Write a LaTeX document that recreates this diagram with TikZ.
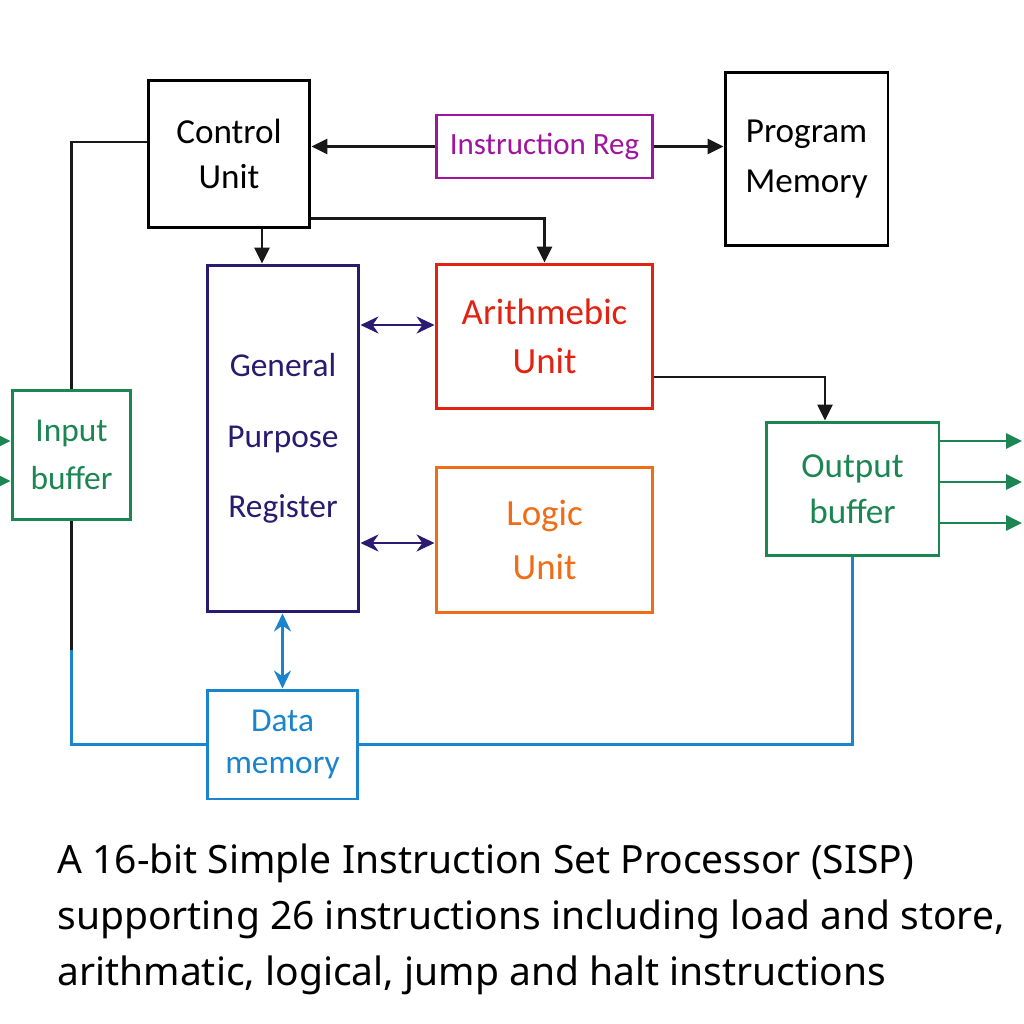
\documentclass[tikz,border=0pt]{standalone}
\usepackage{fontspec}
\setmainfont{Carlito}
\newfontfamily\capfont{Noto Sans}
\usetikzlibrary{arrows.meta, positioning, calc}
\definecolor{irpurple}{RGB}{160,20,160}
\definecolor{gprindigo}{RGB}{42,26,112}
\definecolor{aured}{RGB}{226,34,18}
\definecolor{luorange}{RGB}{240,108,22}
\definecolor{bufgreen}{RGB}{28,134,82}
\definecolor{memblue}{RGB}{26,132,204}
\definecolor{linedark}{RGB}{25,25,25}

\tikzset{
  block/.style={draw, line width=1.7pt, inner sep=0pt, align=center, font=\fontsize{20}{26}\selectfont},
  arr/.style={line width=1.5pt, linedark, -{Triangle[length=0.32cm, width=0.3cm]}},
  dbl/.style={line width=1.6pt, {Stealth[length=0.36cm, width=0.34cm]}-{Stealth[length=0.36cm, width=0.34cm]}},
  wire/.style={line width=1.5pt}
}

\begin{document}
\begin{tikzpicture}[x=0.02cm, y=-0.02cm]

\fill[white] (0,0) rectangle (1024,1024);
\clip (0,0) rectangle (1024,1024);

% === blocks ===
\node[block, minimum width=3.24cm, minimum height=2.96cm] (cu) at (229,154) {Control\\Unit};
\node[block, draw=irpurple, text=irpurple, minimum width=4.34cm, minimum height=1.26cm, font=\fontsize{17.6}{20}\selectfont] (ir) at (544.5,146.5) {Instruction Reg};
\node[block, minimum width=3.26cm, minimum height=3.48cm, font=\fontsize{20}{28}\selectfont] (pm) at (806.5,159) {Program\\Memory};
\node[block, draw=gprindigo, text=gprindigo, minimum width=3.04cm, minimum height=6.94cm, font=\fontsize{19}{40}\selectfont] (gpr) at (283,438.5) {General\\Purpose\\Register};
\node[block, draw=aured, text=aured, minimum width=4.34cm, minimum height=2.9cm, font=\fontsize{21}{28}\selectfont] (au) at (544.5,336.5) {Arithmebic\\Unit};
\node[block, draw=luorange, text=luorange, minimum width=4.34cm, minimum height=2.92cm, font=\fontsize{21}{31}\selectfont] (lu) at (544.5,540) {Logic\\Unit};
\node[block, draw=bufgreen, text=bufgreen, minimum width=3.46cm, minimum height=2.68cm] (ob) at (852.5,489) {Output\\buffer};
\node[block, draw=bufgreen, text=bufgreen, minimum width=2.38cm, minimum height=2.6cm, font=\fontsize{19}{27}\selectfont] (ib) at (71.5,455) {Input\\buffer};
\node[block, draw=memblue, text=memblue, minimum width=3.02cm, minimum height=2.18cm, font=\fontsize{19}{24}\selectfont] (dm) at (282.5,744.5) {Data\\memory};

% === control paths ===
\draw[arr] (ir.west) -- (ir.west -| cu.east);
\draw[arr] (ir.east) -- (ir.east -| pm.west);
\draw[arr] ([xshift=-0.42cm]gpr.north |- cu.south) -- ([xshift=-0.42cm]gpr.north);
\draw[arr] ([yshift=0.22cm]cu.south east) -| (au.north);

% register <-> units
\coordinate (auy) at (0,325);
\draw[dbl, gprindigo] (auy -| gpr.east) -- (auy -| au.west);
\coordinate (luy) at (0,543);
\draw[dbl, gprindigo] (luy -| gpr.east) -- (luy -| lu.west);
\draw[dbl, memblue] (dm.north) -- (dm.north |- gpr.south);

% arithmetic -> output
\coordinate (aur) at (0,377);
\draw[arr] (aur -| au.east) -| ([xshift=-0.55cm]ob.north);

% === buffers ===
\foreach \yy in {441,482,523} {
  \coordinate (o) at (1022,\yy);
  \draw[arr, bufgreen] (o -| ob.east) -- (o);
}
\foreach \yy in {441,481} {
  \coordinate (i) at (-20,\yy);
  \draw[arr, bufgreen] (i) -- (i -| ib.west);
}

% input / output wiring to data memory
\coordinate (cul) at (0,142);
\draw[wire, linedark] (cul -| cu.west) -| (ib.north);
\coordinate (mix) at (0,650);
\draw[wire, linedark] (ib.south) -- (mix -| ib.south);
\draw[wire, memblue] (mix -| ib.south) |- (dm.west);
\draw[wire, memblue] (ob.south) |- (dm.east);

% === caption ===
\node[anchor=north west, align=left, inner sep=0pt, font=\capfont\fontsize{22.2}{32}\selectfont] (caption) at (57,843)
  {A 16-bit Simple Instruction Set Processor (SISP)\\
   supporting 26 instructions including load and store,\\
   arithmatic, logical, jump and halt instructions};

\end{tikzpicture}
\end{document}
